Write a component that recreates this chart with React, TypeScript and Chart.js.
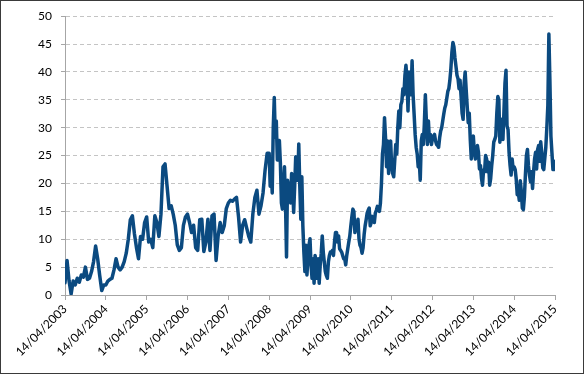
import React, { useEffect, useRef } from "react";
import { Chart, registerables } from "chart.js";

Chart.register(...registerables);

// Tick labels (one per year, 14 April)
const tickLabels = [
  "14/04/2003", "14/04/2004", "14/04/2005", "14/04/2006", "14/04/2007",
  "14/04/2008", "14/04/2009", "14/04/2010", "14/04/2011", "14/04/2012",
  "14/04/2013", "14/04/2014", "14/04/2015",
];

// Values: evenly spaced samples inside each year (14/04 to 14/04)
const year2003 = [2.2, 6.2, 2.5, 0.2, 2.5, 1.8, 3.0, 2.3, 3.6, 3.2, 5.0, 2.8, 3.0, 4.2, 6.0, 8.8, 6.5, 3.5, 0.8, 1.8];
const year2004 = [1.8, 2.5, 2.8, 3.0, 4.5, 6.5, 5.0, 4.5, 5.0, 6.0, 7.5, 10.0, 13.5, 14.2, 11.0, 8.5, 6.5, 10.5, 10.0, 13.0];
const year2005 = [14.0, 9.5, 10.0, 8.5, 14.2, 13.0, 10.5, 14.5, 23.0, 23.5, 19.5, 15.5, 16.0, 14.5, 12.5, 9.0, 8.0, 8.5, 12.5, 14.0];
const year2006 = [14.5, 13.0, 11.2, 12.5, 8.5, 8.0, 13.5, 13.6, 7.8, 9.5, 13.6, 8.0, 14.2, 14.5, 6.2, 10.6, 13.0, 11.2, 12.4, 15.5];
const year2007 = [16.5, 17.0, 16.8, 17.2, 17.5, 14.0, 9.5, 12.5, 13.5, 12.0, 10.5, 9.5, 14.5, 17.5, 18.8, 14.5, 16.0, 18.3, 22.4, 25.4];
const year2008 = [
  25.4, 19.5, 22.4, 18.3, 30.0, 35.4, 28.3, 31.2, 24.2, 27.7,
  27.7, 23.6, 16.5, 15.4, 19.5, 23.0, 16.5, 6.8, 20.6, 18.3,
  20.0, 16.5, 21.8, 19.5, 14.8, 19.5, 24.8, 21.8, 20.6, 27.1,
  19.5, 13.6, 21.2, 12.4, 7.7, 4.2, 8.9, 3.6, 6.5, 8.9,
];
const year2009 = [
  10.1, 5.4, 3.0, 6.5, 2.1, 7.1, 5.9, 3.0, 6.5, 2.1,
  5.4, 7.5, 10.6, 7.7, 5.9, 4.2, 3.5, 3.0, 5.9, 7.1,
  7.7, 7.7, 8.0, 7.1, 9.5, 11.2, 11.2, 9.5, 10.6, 8.3,
  8.0, 7.7, 7.1, 6.5, 6.5, 5.4, 7.1, 8.3, 9.5, 10.6,
];
const year2010 = [
  12.4, 14.0, 15.4, 15.0, 11.2, 12.0, 12.4, 13.6, 10.0, 8.9,
  8.5, 7.5, 8.5, 10.8, 12.4, 13.5, 14.7, 15.2, 15.6, 12.4,
  13.0, 14.1, 13.5, 13.0, 14.7, 15.2, 15.9, 15.3, 15.0, 16.5,
  20.0, 25.3, 27.0, 31.8, 28.2, 23.0, 27.6, 21.8, 27.0, 27.6,
];
const year2011 = [
  23.0, 21.8, 21.2, 24.1, 27.0, 25.3, 30.0, 33.0, 30.0, 34.1,
  34.7, 37.0, 35.9, 39.4, 41.2, 38.8, 33.0, 40.0, 37.6, 35.9,
  42.0, 35.9, 32.4, 28.8, 26.5, 25.3, 23.0, 24.1, 20.6, 27.6,
  28.8, 27.0, 30.6, 35.9, 31.2, 27.0, 31.2, 27.6, 28.8, 27.0,
];
const year2012 = [
  28.2, 28.5, 28.8, 27.6, 27.0, 26.8, 26.5, 28.2, 29.4, 30.0,
  31.2, 32.4, 33.5, 34.1, 35.3, 36.5, 37.0, 38.5, 40.6, 43.5,
  45.3, 44.5, 42.5, 41.0, 39.4, 38.8, 37.0, 38.5, 35.6, 32.6,
  31.5, 38.0, 40.0, 36.8, 33.8, 30.9, 32.6, 27.9, 24.4, 27.9,
];
const year2013 = [
  28.5, 25.6, 24.4, 25.0, 26.8, 25.6, 22.6, 23.2, 20.9, 19.7,
  22.4, 22.1, 25.0, 24.4, 22.1, 23.8, 19.7, 20.9, 23.2, 25.0,
  27.4, 27.9, 28.5, 32.6, 35.6, 35.0, 27.4, 30.9, 31.5, 27.9,
  33.0, 38.0, 40.3, 30.3, 29.7, 25.6, 23.2, 21.5, 24.4, 22.6,
];
const year2014 = [
  23.0, 22.5, 20.8, 18.0, 18.5, 17.0, 20.5, 18.6, 15.6, 15.3,
  17.5, 21.5, 25.0, 26.1, 23.2, 21.5, 20.3, 22.1, 19.1, 22.1,
  24.4, 25.6, 22.6, 26.1, 26.8, 24.0, 27.5, 25.5, 22.8, 22.5,
  24.5, 26.5, 30.0, 34.0, 46.8, 38.5, 28.5, 25.5, 22.5, 22.5,
];
const finalValue = [24.0];

const yearSeries = [
  year2003, year2004, year2005, year2006, year2007, year2008,
  year2009, year2010, year2011, year2012, year2013, year2014,
];

export default function App() {
  const canvasRef = useRef<HTMLCanvasElement>(null);

  useEffect(() => {
    document.body.style.margin = "0";
    const points: { x: number; y: number }[] = [];
    yearSeries.forEach((arr, k) => {
      arr.forEach((v, i) => points.push({ x: k + i / arr.length, y: v }));
    });
    finalValue.forEach((v) => points.push({ x: yearSeries.length, y: v }));

    const font = { family: "Lato", size: 12 };
    const axisColor = "#a6a6a6";

    const chart = new Chart(canvasRef.current!, {
      type: "line",
      data: {
        datasets: [
          {
            data: points,
            borderColor: "#0B4A80",
            borderWidth: 3.5,
            pointRadius: 0,
            tension: 0,
            borderJoinStyle: "round",
            borderCapStyle: "round",
          },
        ],
      },
      options: {
        animation: false,
        responsive: false,
        parsing: false as any,
        layout: { padding: { left: 8, right: 29, top: 12, bottom: 0 } },
        plugins: { legend: { display: false }, tooltip: { enabled: false } },
        scales: {
          x: {
            type: "linear",
            min: 0,
            max: 12,
            ticks: {
              stepSize: 1,
              autoSkip: false,
              maxRotation: 45,
              minRotation: 45,
              padding: 2,
              color: "#000",
              font,
              callback: (_v: any, i: number) => tickLabels[i],
            },
            grid: {
              display: true,
              drawOnChartArea: false,
              drawTicks: true,
              tickLength: 5,
              color: axisColor,
            },
            border: { display: true, color: axisColor },
            afterFit: (s: any) => {
              s.height = 79;
            },
          },
          y: {
            min: 0,
            max: 50,
            ticks: { stepSize: 5, padding: 9, color: "#000", font },
            grid: {
              color: (ctx: any) => (ctx.tick && ctx.tick.value === 0 ? "rgba(0,0,0,0)" : "#c4c4c4"),
              tickColor: axisColor,
              tickLength: 4,
            },
            border: { display: true, color: axisColor, dash: [4, 3] },
            afterFit: (s: any) => {
              s.width = 57;
            },
          },
        },
      },
    });
    return () => chart.destroy();
  }, []);

  return (
    <div style={{ position: "relative", width: 584, height: 374, background: "#fff" }}>
      <canvas ref={canvasRef} width={584} height={374} style={{ position: "absolute", left: 0, top: 0 }} />
      <div
        style={{
          position: "absolute",
          left: 0,
          top: 0,
          width: 584,
          height: 374,
          boxSizing: "border-box",
          border: "1px solid #3a3a3a",
          pointerEvents: "none",
        }}
      />
    </div>
  );
}
